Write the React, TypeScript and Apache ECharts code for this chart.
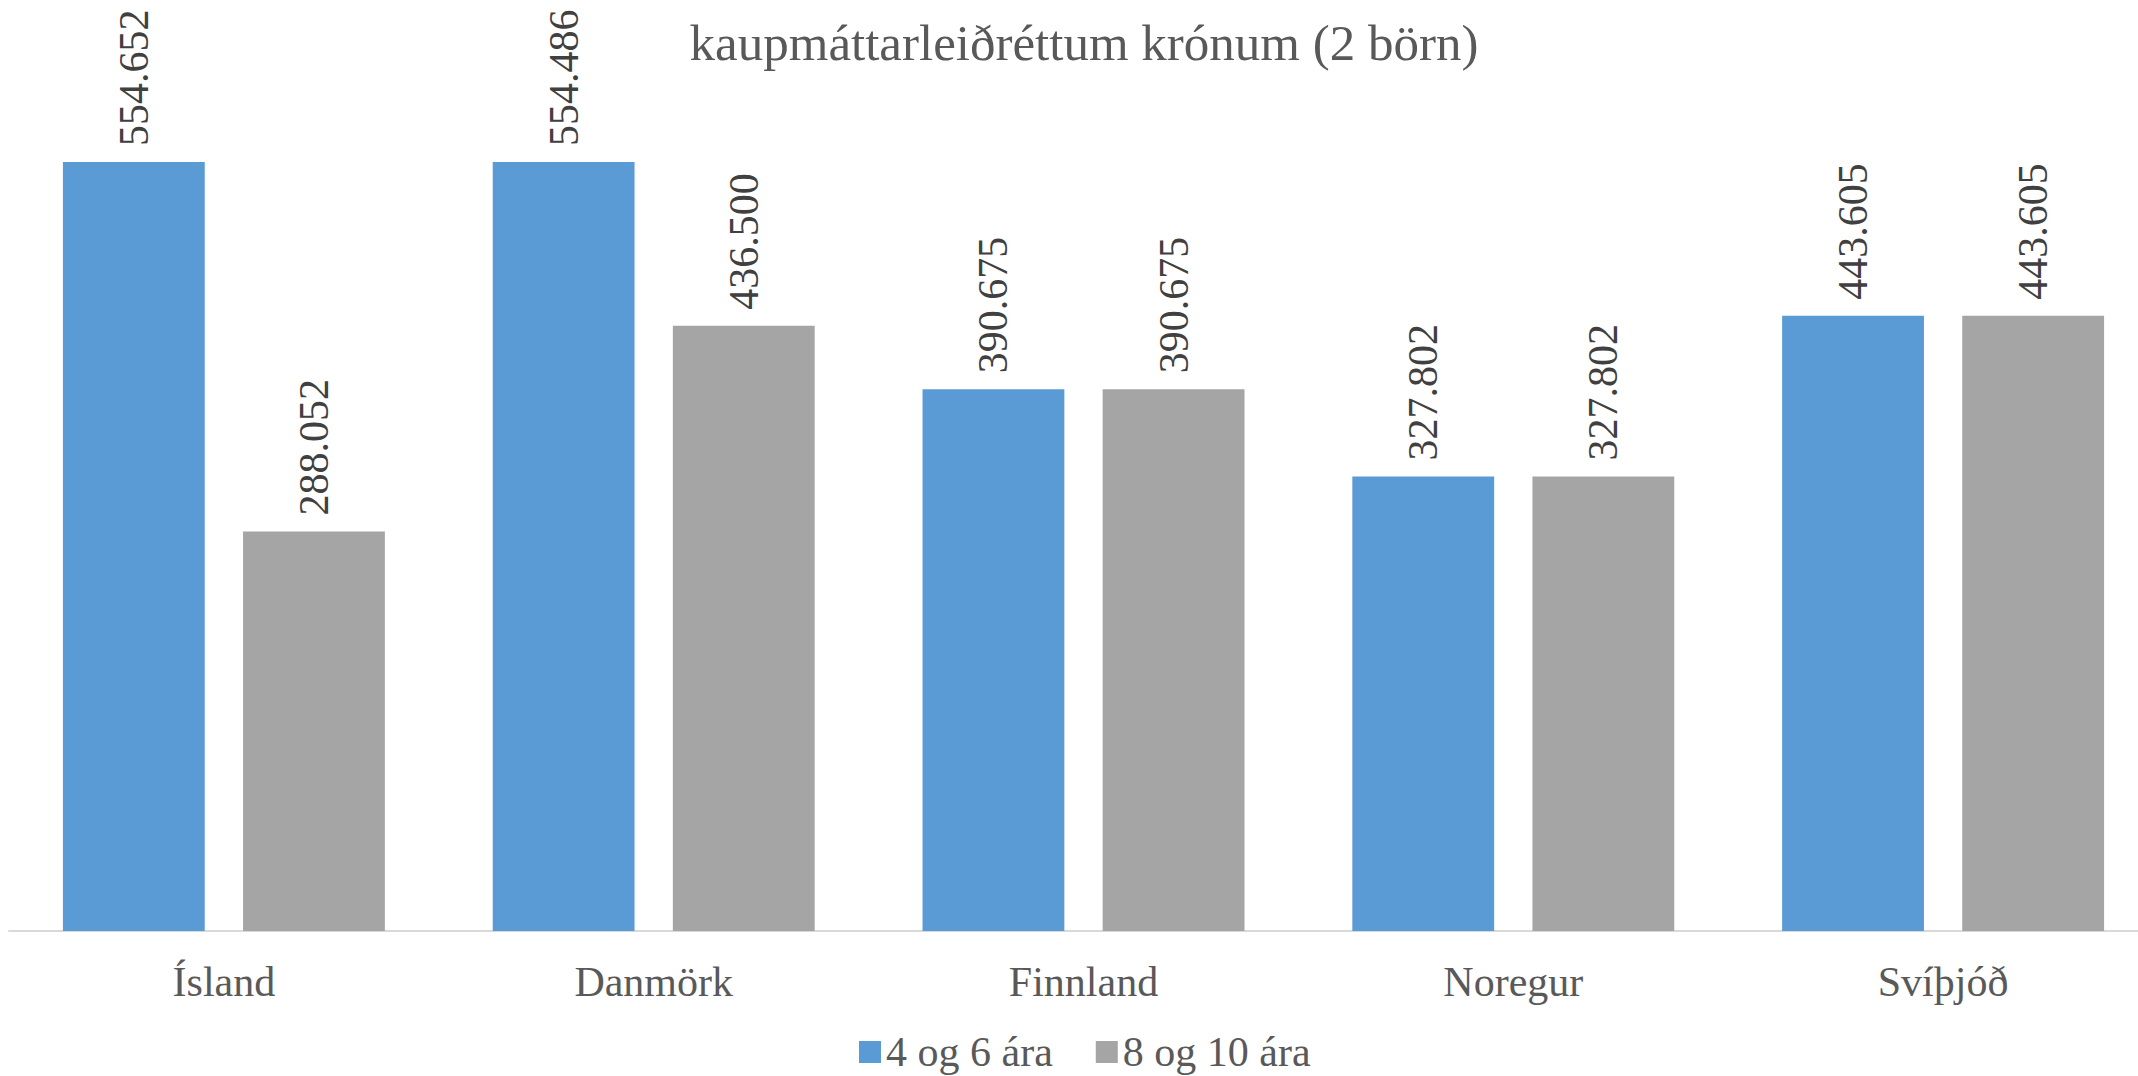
import React, { useEffect, useRef } from "react";
import * as echarts from "echarts";

const categories = ["Ísland", "Danmörk", "Finnland", "Noregur", "Svíþjóð"];
const seriesNames = ["4 og 6 ára", "8 og 10 ára"];
const youngerValues = [554652, 554486, 390675, 327802, 443605];
const olderValues = [288052, 436500, 390675, 327802, 443605];
const titleText = "kaupmáttarleiðréttum krónum (2 börn)";

const FONT = "Liberation Serif, Times New Roman, serif";

const fmt = (v: number) =>
  String(Math.round(v)).replace(/\B(?=(\d{3})+(?!\d))/g, ".");

export default function App() {
  const ref = useRef<HTMLDivElement>(null);
  useEffect(() => {
    if (!ref.current) return;
    const chart = echarts.init(ref.current, null, { renderer: "svg" });
    const makeLabel = () => ({
      show: true,
      position: "top",
      rotate: 90,
      align: "left",
      verticalAlign: "middle",
      distance: 16,
      fontFamily: FONT,
      fontSize: 42,
      color: "#404040",
      formatter: (p: any) => "{v|" + fmt(p.value) + "}",
      rich: {
        v: { fontFamily: FONT, fontSize: 42, color: "#404040" },
      },
    });
    chart.setOption({
      animation: false,
      backgroundColor: "#ffffff",
      textStyle: { fontFamily: FONT },
      graphic: [
        {
          type: "text",
          x: 1084,
          y: 43,
          style: {
            text: titleText,
            fontFamily: FONT,
            fontSize: 51,
            fill: "#595959",
            align: "center",
            verticalAlign: "middle",
          },
        },
      ],
      legend: {
        data: seriesNames,
        left: 859,
        top: 1031,
        padding: 0,
        icon: "rect",
        itemWidth: 22,
        itemHeight: 22,
        itemGap: 43,
        formatter: (name: string) => "{t|" + name + "}",
        textStyle: {
          fontFamily: FONT,
          fontSize: 42,
          color: "#595959",
          rich: { t: { fontFamily: FONT, fontSize: 42, color: "#595959" } },
        },
      },
      grid: { left: 9, top: 99, width: 2149, bottom: 145, containLabel: false },
      xAxis: {
        type: "category",
        data: categories,
        axisLine: { show: true, lineStyle: { color: "#d9d9d9", width: 2 } },
        axisTick: { show: false },
        axisLabel: { fontFamily: FONT, fontSize: 42, color: "#595959", margin: 30 },
      },
      yAxis: {
        type: "value",
        min: 0,
        max: 600000,
        interval: 100000,
        show: false,
        splitLine: { show: false },
      },
      series: [
        {
          name: seriesNames[0],
          type: "bar",
          data: youngerValues,
          barWidth: "33%",
          barGap: "27%",
          itemStyle: { color: "#5B9BD5" },
          label: makeLabel(),
        },
        {
          name: seriesNames[1],
          type: "bar",
          data: olderValues,
          barWidth: "33%",
          barGap: "27%",
          itemStyle: { color: "#A5A5A5" },
          label: makeLabel(),
        },
      ],
    });
    return () => chart.dispose();
  }, []);
  return (
    <div style={{ position: "fixed", left: 0, top: 0, width: 2138, height: 1076, overflow: "hidden", background: "#fff" }}>
      <div ref={ref} style={{ position: "absolute", left: 0, top: 0, width: 2180, height: 1076 }} />
    </div>
  );
}
